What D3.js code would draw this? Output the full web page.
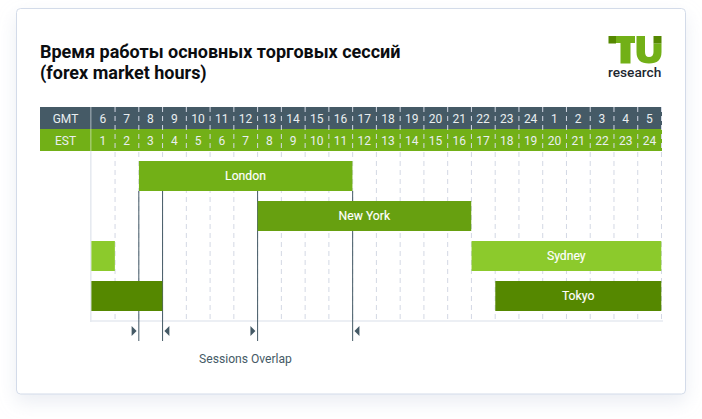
<!DOCTYPE html>
<html>
<head>
<meta charset="utf-8">
<script src="https://cdn.jsdelivr.net/npm/d3@7"></script>
<style>
  html, body { margin: 0; padding: 0; background: #fff; overflow: hidden; }
  text { font-family: Roboto, sans-serif; }
</style>
</head>
<body>
<script>
var w = 702;
var h = 419;

var titleLines = ["Время работы основных торговых сессий", "(forex market hours)"];
var gmtHours = ["6", "7", "8", "9", "10", "11", "12", "13", "14", "15", "16", "17", "18", "19", "20", "21", "22", "23", "24", "1", "2", "3", "4", "5"];
var estHours = ["1", "2", "3", "4", "5", "6", "7", "8", "9", "10", "11", "12", "13", "14", "15", "16", "17", "18", "19", "20", "21", "22", "23", "24"];

// first and last GMT hour of each bar, wrapped sessions have two bars
var sessionNames = ["London", "New York", "Sydney", "Sydney", "Tokyo", "Tokyo"];
var sessionFrom = ["8", "13", "6", "22", "6", "23"];
var sessionTo = ["16", "21", "6", "5", "8", "5"];
var sessionLabels = ["London", "New York", "", "Sydney", "", "Tokyo"];
var sessionColors = { "London": "#72b017", "New York": "#67a010", "Sydney": "#8cca2c", "Tokyo": "#558800" };

var rowNames = ["London", "New York", "Sydney", "Tokyo"];

// overlap lines, hour where it sits and which way the arrow points
var overlapHours = ["8", "9", "13", "17"];
var overlapSides = [-1, 1, -1, 1];

var svg = d3.select("body")
    .append("svg")
    .attr("width", w)
    .attr("height", h)
    .style("display", "block");

var defs = svg.append("defs");
var shadow = defs.append("filter")
    .attr("id", "cardShadow")
    .attr("x", "-10%").attr("y", "-10%")
    .attr("width", "120%").attr("height", "125%");
shadow.append("feDropShadow")
    .attr("dx", 0).attr("dy", 8)
    .attr("stdDeviation", 9)
    .attr("flood-color", "#c5cede")
    .attr("flood-opacity", 0.35);

// Card
svg.append("rect")
    .attr("x", 16.5).attr("y", 8.5)
    .attr("width", 669).attr("height", 385.5)
    .attr("rx", 4)
    .attr("fill", "#fff")
    .attr("stroke", "#d3dbe9")
    .attr("filter", "url(#cardShadow)");

// Title
svg.append("g").selectAll("text")
    .data(titleLines)
    .enter()
    .append("text")
    .attr("x", 40)
    .attr("y", function (d, i) { return 57.5 + i * 21; })
    .attr("font-size", 18)
    .attr("font-weight", 700)
    .attr("fill", "#0b0d10")
    .text(function (d) { return d; });

var xScale = d3.scaleBand()
    .domain(gmtHours)
    .range([91.1, 661.3]);

var yScale = d3.scaleBand()
    .domain(rowNames)
    .range([156, 316])
    .paddingInner(0.25)
    .paddingOuter(0.125);

var gridBottom = 321;

function leftEdge(hour) { return xScale(hour); }
function rightEdge(hour) { return xScale(hour) + xScale.bandwidth(); }

// Header bands
svg.append("rect").attr("x", 40).attr("y", 107).attr("width", 622).attr("height", 22).attr("fill", "#455a66");
svg.append("rect").attr("x", 40).attr("y", 129).attr("width", 622).attr("height", 22).attr("fill", "#72b017");

// Dashed hour lines
svg.append("g")
    .selectAll("line")
    .data(gmtHours.slice(1).concat("end"))
    .enter()
    .append("line")
    .attr("x1", function (d, i) { return i === gmtHours.length - 1 ? 661.5 : leftEdge(d) + 0.2; })
    .attr("x2", function (d, i) { return i === gmtHours.length - 1 ? 661.5 : leftEdge(d) + 0.2; })
    .attr("y1", 107)
    .attr("y2", gridBottom)
    .attr("stroke", "#d3d8e4")
    .attr("stroke-dasharray", "5,4");

// Plot frame
svg.append("line")
    .attr("x1", 90.8).attr("x2", 90.8)
    .attr("y1", 151).attr("y2", gridBottom + 1)
    .attr("stroke", "#e6eaf0").attr("stroke-width", 1.6);
svg.append("line")
    .attr("x1", 90).attr("x2", 663)
    .attr("y1", gridBottom).attr("y2", gridBottom)
    .attr("stroke", "#e6eaf0").attr("stroke-width", 1.6);

// Divider between row names and hours
svg.append("line")
    .attr("x1", 90.8).attr("x2", 90.8)
    .attr("y1", 107).attr("y2", 129)
    .attr("stroke", "#8f9da6").attr("stroke-width", 1.4);
svg.append("line")
    .attr("x1", 90.8).attr("x2", 90.8)
    .attr("y1", 129).attr("y2", 151)
    .attr("stroke", "#a6cc70").attr("stroke-width", 1.4);

// Overlap lines sit behind the bars
svg.append("g")
    .selectAll("line")
    .data(overlapHours)
    .enter()
    .append("line")
    .attr("x1", function (d) { return leftEdge(d) + 0.2; })
    .attr("x2", function (d) { return leftEdge(d) + 0.2; })
    .attr("y1", 191)
    .attr("y2", 341)
    .attr("stroke", "#455a66");

// Overlap arrows
svg.append("g")
    .selectAll("path")
    .data(overlapHours)
    .enter()
    .append("path")
    .attr("transform", function (d, i) {
        return "translate(" + (leftEdge(d) + overlapSides[i] * 7) + ",331)";
    })
    .attr("d", function (d, i) {
        return "M0,-5L" + (overlapSides[i] * -5) + ",0L0,5Z";
    })
    .attr("fill", "#455a66");

// Session bars
var bars = svg.append("g")
    .selectAll("g")
    .data(sessionNames)
    .enter()
    .append("g");

bars.append("rect")
    .attr("x", function (d, i) { return leftEdge(sessionFrom[i]) + 0.3; })
    .attr("y", function (d) { return yScale(d); })
    .attr("width", function (d, i) { return rightEdge(sessionTo[i]) - leftEdge(sessionFrom[i]) - 0.3; })
    .attr("height", yScale.bandwidth())
    .attr("fill", function (d) { return sessionColors[d]; });

bars.append("text")
    .attr("x", function (d, i) { return (leftEdge(sessionFrom[i]) + rightEdge(sessionTo[i])) / 2; })
    .attr("y", function (d) { return yScale(d) + yScale.bandwidth() / 2; })
    .attr("dy", "0.35em")
    .attr("text-anchor", "middle")
    .attr("font-size", 12.2)
    .attr("font-weight", 400)
    .attr("fill", "#fff")
    .attr("stroke", "#fff")
    .attr("stroke-width", 0.15)
    .text(function (d, i) { return sessionLabels[i]; });

// Hour labels through the axis
function hourAxis(y, labels, name) {
    var axis = d3.axisBottom(xScale)
        .tickSize(0)
        .tickPadding(0)
        .tickFormat(function (d, i) { return labels[i]; });
    var g = svg.append("g")
        .attr("class", name)
        .attr("transform", "translate(0," + y + ")")
        .call(axis);
    g.select(".domain").remove();
    g.selectAll("text")
        .attr("y", 0)
        .attr("dy", "0.35em")
        .attr("font-size", 12)
        .attr("font-family", "Roboto, sans-serif")
        .attr("fill", "#e9eef0");
}
hourAxis(118.5, gmtHours, "gmt-axis");
hourAxis(140.5, estHours, "est-axis");

svg.append("text")
    .attr("x", 65.5).attr("y", 118.5)
    .attr("dy", "0.35em")
    .attr("text-anchor", "middle")
    .attr("font-size", 12)
    .attr("fill", "#e9eef0")
    .text("GMT");
svg.append("text")
    .attr("x", 65.5).attr("y", 140.5)
    .attr("dy", "0.35em")
    .attr("text-anchor", "middle")
    .attr("font-size", 12)
    .attr("fill", "#e9eef0")
    .text("EST");

svg.append("text")
    .attr("x", 245.5).attr("y", 359)
    .attr("dy", "0.35em")
    .attr("text-anchor", "middle")
    .attr("font-size", 12.1)
    .attr("fill", "#455a66")
    .text("Sessions Overlap");

// Logo
var logo = svg.append("g").attr("class", "logo");
logo.append("path")
    .attr("d", "M616,36H635V43H630.5V63.5H620.5V43H616Z")
    .attr("fill", "#72b017");
logo.append("path")
    .attr("d", "M636.5,36H645V52Q645,57 649,57Q653.5,57 653.5,52V43.5H661.5V52Q661.5,63.5 649,63.5Q636.5,63.5 636.5,52Z")
    .attr("fill", "#72b017");
logo.append("rect").attr("x", 608.5).attr("y", 36).attr("width", 7.5).attr("height", 7.5).attr("fill", "#558800");
logo.append("rect").attr("x", 653.5).attr("y", 36).attr("width", 8).attr("height", 7.5).attr("fill", "#558800");
logo.append("text")
    .attr("x", 608).attr("y", 76.5)
    .attr("font-size", 13.7)
    .attr("font-weight", 500)
    .attr("fill", "#1d2730")
    .text("research");
</script>
</body>
</html>
